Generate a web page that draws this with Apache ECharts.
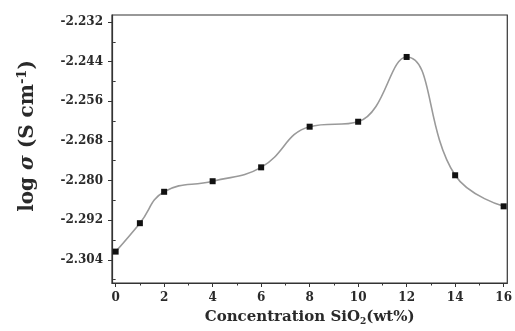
<!DOCTYPE html>
<html><head><meta charset="utf-8">
<script src="https://cdn.jsdelivr.net/npm/echarts@6/dist/echarts.min.js"></script>
<style>html,body{margin:0;padding:0;background:#fff}#c{width:515px;height:331px}</style>
</head><body><div id="c"></div>
<script>
const concentration = [0, 1, 2, 4, 6, 8, 10, 12, 14, 16];
const logSigma = [-2.3015, -2.2929, -2.2834, -2.2802, -2.2760, -2.2637, -2.2622, -2.2426, -2.2784, -2.2878];
const yTickValues = [-2.304, -2.292, -2.280, -2.268, -2.256, -2.244, -2.232];
const yMinorValues = [-2.310, -2.298, -2.286, -2.274, -2.262, -2.250, -2.238];
const xTickValues = [0, 2, 4, 6, 8, 10, 12, 14, 16];
const xMinorValues = [1, 3, 5, 7, 9, 11, 13, 15];

const FONT = '"DejaVu Serif","Liberation Serif",serif';
const AX = '#333';
const TXT = '#2a2a2a';
const chart = echarts.init(document.getElementById('c'));
const yMin = -2.311, yMax = -2.2299, xMin = -0.15, xMax = 16.15;
chart.setOption({
  animation: false,
  grid: { left: 112, right: 2, top: 15, bottom: 47, show: true, borderColor: AX, borderWidth: 1.2 },
  xAxis: [
    { type: 'value', min: xMin, max: xMax,
      name: '{a|Concentration SiO}{s|2}{a|(wt%)}', nameLocation: 'middle', nameGap: 25,
      nameTextStyle: { rich: {
        a: { fontFamily: FONT, fontWeight: 'bold', fontSize: 15, color: TXT },
        s: { fontFamily: FONT, fontWeight: 'bold', fontSize: 9, color: TXT, padding: [9, 0, 0, 0] } } },
      axisLine: { show: true, onZero: false, lineStyle: { color: AX, width: 1.2 } },
      axisTick: { show: true, customValues: xTickValues, length: 4, lineStyle: { color: AX } },
      axisLabel: { customValues: xTickValues, fontFamily: FONT, fontWeight: 'bold', fontSize: 12, color: TXT, margin: 9 },
      splitLine: { show: false } },
    { type: 'value', min: xMin, max: xMax, position: 'bottom',
      axisLine: { show: false },
      axisTick: { show: true, customValues: xMinorValues, length: 2.5, lineStyle: { color: AX } },
      axisLabel: { show: false }, splitLine: { show: false } }
  ],
  yAxis: [
    { type: 'value', min: yMin, max: yMax,
      name: '{a|log }{i|σ}{a| (S cm}{s|-1}{a|)}', nameLocation: 'middle', nameGap: 73, nameRotate: 90,
      nameTextStyle: { padding: [0, 0, 0, 26], rich: {
        a: { fontFamily: FONT, fontWeight: 'bold', fontSize: 20, color: TXT },
        i: { fontFamily: FONT, fontWeight: 'bold', fontStyle: 'italic', fontSize: 20, color: TXT },
        s: { fontFamily: FONT, fontWeight: 'bold', fontSize: 13, color: TXT, padding: [0, 0, 10, 0] } } },
      axisLine: { show: true, onZero: false, lineStyle: { color: AX, width: 1.2 } },
      axisTick: { show: true, customValues: yTickValues, length: 4, lineStyle: { color: AX } },
      axisLabel: { customValues: yTickValues, formatter: v => v.toFixed(3), fontFamily: FONT, fontWeight: 'bold', fontSize: 12, color: TXT, margin: 9 },
      splitLine: { show: false } },
    { type: 'value', min: yMin, max: yMax, position: 'left',
      axisLine: { show: false },
      axisTick: { show: true, customValues: yMinorValues, length: 2.5, lineStyle: { color: AX } },
      axisLabel: { show: false }, splitLine: { show: false } }
  ],
  series: [{
    type: 'line', xAxisIndex: 0, yAxisIndex: 0,
    data: concentration.map((x, i) => [x, logSigma[i]]),
    smooth: 0.45, clip: false,
    symbol: 'rect', symbolSize: 6,
    itemStyle: { color: '#111' },
    lineStyle: { color: '#9a9a9a', width: 1.6 }
  }]
});
</script></body></html>
